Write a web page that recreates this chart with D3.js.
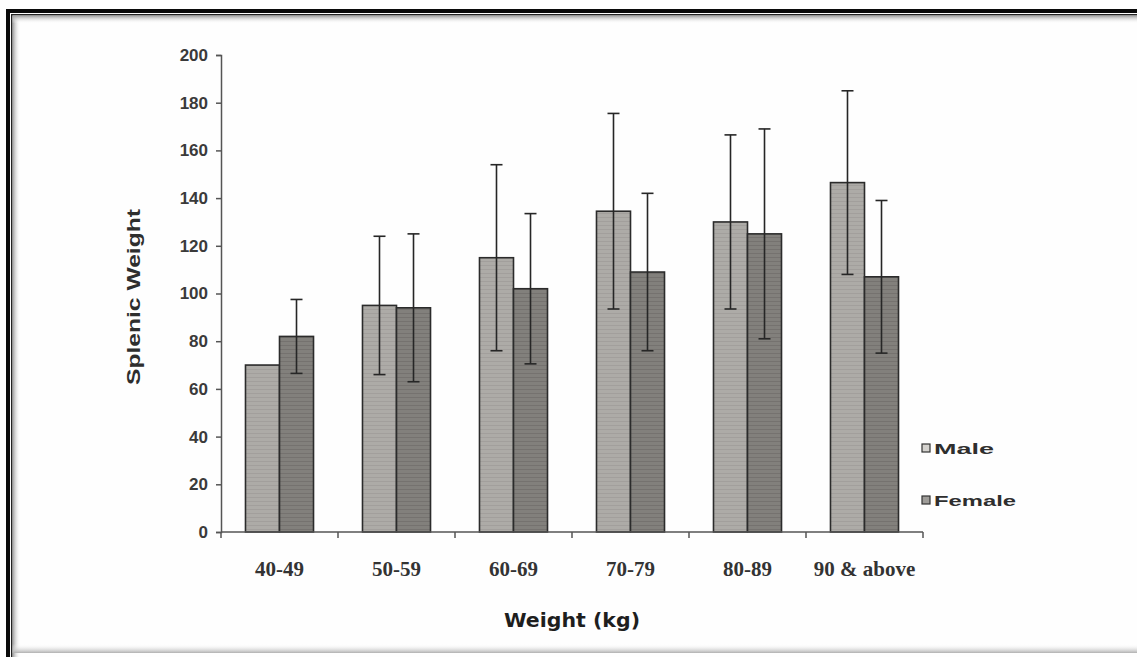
<!DOCTYPE html>
<html>
<head>
<meta charset="utf-8">
<script src="https://cdn.jsdelivr.net/npm/d3@7"></script>
<style>
  body { margin: 0; background: #fff; }
  svg { display: block; }
</style>
</head>
<body>
<div id="chart"></div>
<script>
// values
const categories = ['40-49', '50-59', '60-69', '70-79', '80-89', '90 & above'];
const series = ['Male', 'Female'];
const maleMean = [70, 95, 115, 134.5, 130, 146.5];
const maleSD = [null, 29, 39, 41, 36.5, 38.5];
const femaleMean = [82, 94, 102, 109, 125, 107];
const femaleSD = [15.5, 31, 31.5, 33, 44, 32];
const yTicks = [0, 20, 40, 60, 80, 100, 120, 140, 160, 180, 200];

const width = 1137, height = 657;
const plot = { left: 221, right: 923, top: 55, bottom: 532 };

const svg = d3.select('#chart').append('svg')
    .attr('width', width)
    .attr('height', height);

const defs = svg.append('defs');

function texture(id, base, line) {
    const p = defs.append('pattern')
        .attr('id', id)
        .attr('patternUnits', 'userSpaceOnUse')
        .attr('width', 6)
        .attr('height', 4);
    p.append('rect').attr('width', 6).attr('height', 4).attr('fill', base);
    p.append('line')
        .attr('x1', 0).attr('x2', 6).attr('y1', 1.5).attr('y2', 1.5)
        .attr('stroke', line).attr('stroke-width', 1).attr('opacity', 0.35);
}
texture('tex-male', '#adaba7', '#8c8a86');
texture('tex-female', '#82807c', '#5a5855');

const shadow = defs.append('linearGradient')
    .attr('id', 'shadow-h').attr('x1', '0%').attr('x2', '100%');
shadow.append('stop').attr('offset', '0%').attr('stop-color', '#9a9a9a');
shadow.append('stop').attr('offset', '100%').attr('stop-color', '#fff').attr('stop-opacity', 0);
const shadowV = defs.append('linearGradient')
    .attr('id', 'shadow-v').attr('x1', '0%').attr('x2', '0%').attr('y1', '0%').attr('y2', '100%');
shadowV.append('stop').attr('offset', '0%').attr('stop-color', '#9a9a9a');
shadowV.append('stop').attr('offset', '100%').attr('stop-color', '#fff').attr('stop-opacity', 0);
const shadowB = defs.append('linearGradient')
    .attr('id', 'shadow-b').attr('x1', '0%').attr('x2', '0%').attr('y1', '0%').attr('y2', '100%');
shadowB.append('stop').attr('offset', '0%').attr('stop-color', '#fff').attr('stop-opacity', 0);
shadowB.append('stop').attr('offset', '100%').attr('stop-color', '#b0b0b0');

// frame
svg.append('rect').attr('x', 0).attr('y', 0).attr('width', width).attr('height', height).attr('fill', '#fefefe');
svg.append('rect').attr('x', 6).attr('y', 9).attr('width', width).attr('height', 4).attr('fill', '#0a0a0a');
svg.append('rect').attr('x', 6).attr('y', 9).attr('width', 4).attr('height', height).attr('fill', '#0a0a0a');
svg.append('rect').attr('x', 11).attr('y', 14).attr('width', width).attr('height', 1.5).attr('fill', '#222');
svg.append('rect').attr('x', 11).attr('y', 14).attr('width', 1.5).attr('height', height).attr('fill', '#222');
svg.append('rect').attr('x', 12.5).attr('y', 15.5).attr('width', 8).attr('height', height).attr('fill', 'url(#shadow-h)');
svg.append('rect').attr('x', 12.5).attr('y', 15.5).attr('width', width).attr('height', 8).attr('fill', 'url(#shadow-v)');
svg.append('rect').attr('x', 12.5).attr('y', 644).attr('width', width).attr('height', 9).attr('fill', 'url(#shadow-b)');

const x = d3.scaleBand()
    .domain(categories)
    .range([plot.left, plot.right])
    .padding(0);

const xs = d3.scaleBand()
    .domain(series)
    .range([0, x.bandwidth()])
    .paddingInner(0)
    .paddingOuter(0.72);

const y = d3.scaleLinear()
    .domain([0, 200])
    .range([plot.bottom, plot.top]);

const rows = [];
categories.forEach((c, i) => {
    rows.push({ cat: c, s: 'Male', mean: maleMean[i], sd: maleSD[i] });
    rows.push({ cat: c, s: 'Female', mean: femaleMean[i], sd: femaleSD[i] });
});

// bars
svg.append('g').selectAll('rect')
    .data(rows)
    .join('rect')
    .attr('x', d => x(d.cat) + xs(d.s))
    .attr('y', d => y(d.mean))
    .attr('width', xs.bandwidth())
    .attr('height', d => y(0) - y(d.mean))
    .attr('fill', d => d.s === 'Male' ? 'url(#tex-male)' : 'url(#tex-female)')
    .attr('stroke', '#2b2b2b')
    .attr('stroke-width', 1.6);

// error bars
const err = svg.append('g')
    .attr('stroke', '#262626')
    .attr('stroke-width', 1.6);
const withSD = rows.filter(d => d.sd != null);
const cx = d => x(d.cat) + xs(d.s) + xs.bandwidth() / 2;
err.selectAll('.stem').data(withSD).join('line')
    .attr('class', 'stem')
    .attr('x1', cx).attr('x2', cx)
    .attr('y1', d => y(d.mean + d.sd))
    .attr('y2', d => y(d.mean - d.sd));
err.selectAll('.cap-top').data(withSD).join('line')
    .attr('class', 'cap-top')
    .attr('x1', d => cx(d) - 6).attr('x2', d => cx(d) + 6)
    .attr('y1', d => y(d.mean + d.sd)).attr('y2', d => y(d.mean + d.sd));
err.selectAll('.cap-bot').data(withSD).join('line')
    .attr('class', 'cap-bot')
    .attr('x1', d => cx(d) - 6).attr('x2', d => cx(d) + 6)
    .attr('y1', d => y(d.mean - d.sd)).attr('y2', d => y(d.mean - d.sd));

// y axis
const yAxis = svg.append('g')
    .attr('transform', `translate(${plot.left},0)`)
    .call(d3.axisLeft(y).tickValues(yTicks).tickSize(5).tickPadding(8));
yAxis.select('.domain').attr('stroke', '#555').attr('stroke-width', 1.5);
yAxis.selectAll('.tick line').attr('stroke', '#555').attr('stroke-width', 1.5);
yAxis.selectAll('.tick text')
    .style('font-family', '"Liberation Sans", Arial, sans-serif')
    .style('font-size', '17px')
    .style('font-weight', 'bold')
    .style('fill', '#3a3a3a');

// x axis: ticks on category boundaries
const xAxis = svg.append('g')
    .attr('transform', `translate(0,${plot.bottom})`);
xAxis.append('line')
    .attr('x1', plot.left).attr('x2', plot.right)
    .attr('stroke', '#555').attr('stroke-width', 1.5);
const bounds = categories.map(c => x(c)).concat([x.range()[1]]);
xAxis.selectAll('.bt').data(bounds).join('line')
    .attr('class', 'bt')
    .attr('x1', d => d).attr('x2', d => d)
    .attr('y1', 0).attr('y2', 6)
    .attr('stroke', '#555').attr('stroke-width', 1.5);
xAxis.selectAll('.lbl').data(categories).join('text')
    .attr('class', 'lbl')
    .attr('x', d => x(d) + x.bandwidth() / 2)
    .attr('y', 44)
    .attr('text-anchor', 'middle')
    .style('font-family', '"Liberation Serif", "Times New Roman", serif')
    .style('font-size', '21px')
    .style('font-weight', 'bold')
    .style('fill', '#333')
    .text(d => d);

// axis titles
svg.append('text')
    .attr('x', (plot.left + plot.right) / 2)
    .attr('y', 627)
    .attr('text-anchor', 'middle')
    .attr('textLength', 136)
    .attr('lengthAdjust', 'spacingAndGlyphs')
    .style('font-family', '"DejaVu Sans", Verdana, sans-serif')
    .style('font-weight', 'bold')
    .style('font-size', '19px')
    .style('fill', '#1e1e1e')
    .text('Weight (kg)');

svg.append('text')
    .attr('transform', 'translate(140,297) rotate(-90)')
    .attr('text-anchor', 'middle')
    .attr('textLength', 176)
    .attr('lengthAdjust', 'spacingAndGlyphs')
    .style('font-family', '"Liberation Sans", Arial, sans-serif')
    .style('font-weight', 'bold')
    .style('font-size', '19px')
    .style('fill', '#2e2e2e')
    .text('Splenic Weight');

// legend
const legendY = [448, 500];
const legendText = [60, 82];
const legend = svg.append('g');
series.forEach((s, i) => {
    legend.append('rect')
        .attr('x', 922).attr('y', legendY[i] - 4)
        .attr('width', 8).attr('height', 8)
        .attr('fill', i === 0 ? '#d4d2ce' : '#9e9c98')
        .attr('stroke', '#333').attr('stroke-width', 1.2);
    legend.append('text')
        .attr('x', 934).attr('y', legendY[i] + 5.5)
        .attr('textLength', legendText[i])
        .attr('lengthAdjust', 'spacingAndGlyphs')
        .style('font-family', '"Liberation Sans", Arial, sans-serif')
        .style('font-weight', 'bold')
        .style('font-size', '15px')
        .style('fill', '#2e2e2e')
        .text(s);
});
</script>
</body>
</html>
